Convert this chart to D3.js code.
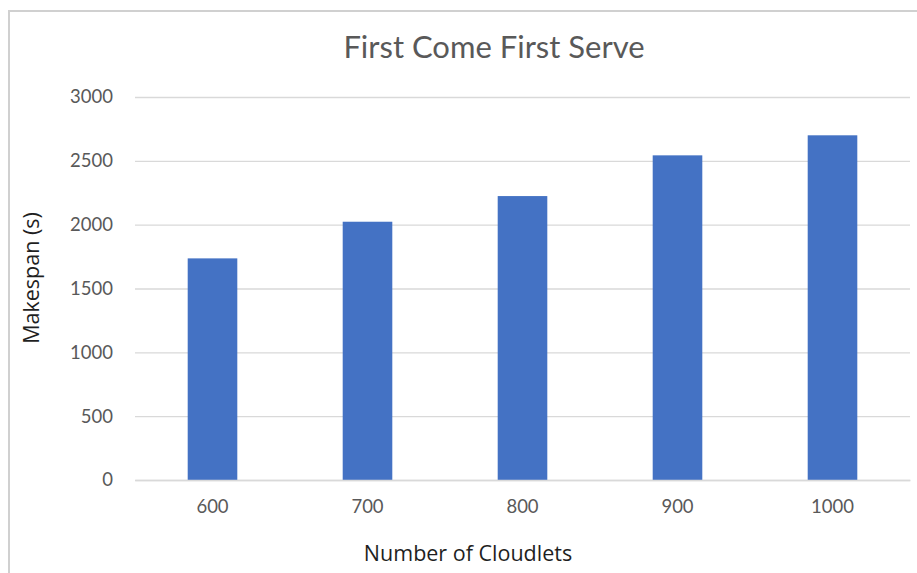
<!DOCTYPE html>
<html>
<head>
<meta charset="utf-8">
<script src="https://cdn.jsdelivr.net/npm/d3@7"></script>
<style>
  body { margin: 0; background: #fff; }
  text { font-family: Lato, "Open Sans", sans-serif; }
</style>
</head>
<body>
<div id="chart"></div>
<script>
// data
const cloudlets = ["600", "700", "800", "900", "1000"];
const makespan = [1736, 2023, 2224, 2543, 2700];
const yTicks = [0, 500, 1000, 1500, 2000, 2500, 3000];

const W = 917, H = 573;
const plot = {left: 135, right: 910, top: 97, bottom: 480};

const svg = d3.select('#chart').append('svg')
    .attr('width', W)
    .attr('height', H);

// chart frame (right and bottom are cut off in the picture)
svg.append('rect')
    .attr('x', 9).attr('y', 11)
    .attr('width', W + 20).attr('height', H + 20)
    .attr('fill', '#fff')
    .attr('stroke', '#d0d0d0')
    .attr('stroke-width', 2);

const x = d3.scaleBand()
    .domain(cloudlets)
    .range([plot.left, plot.right])
    .paddingInner(0.68)
    .paddingOuter(0.34);

const y = d3.scaleLinear()
    .domain([0, 3000])
    .range([plot.bottom, plot.top]);

// gridlines + y labels
const yAxis = d3.axisLeft(y)
    .tickValues(yTicks)
    .tickSize(-(plot.right - plot.left))
    .tickPadding(22)
    .tickFormat(d3.format('d'));

const gy = svg.append('g')
    .attr('transform', `translate(${plot.left},0)`)
    .call(yAxis);
gy.select('.domain').remove();
gy.selectAll('.tick line').attr('stroke', '#d9d9d9').attr('stroke-width', 1.3);
gy.selectAll('.tick text')
    .attr('fill', '#595959')
    .attr('font-size', '18.5px');

// bars
svg.append('g').selectAll('rect')
    .data(makespan)
    .join('rect')
    .attr('x', (d, i) => x(cloudlets[i]))
    .attr('y', d => y(d))
    .attr('width', x.bandwidth())
    .attr('height', d => y(0) - y(d))
    .attr('fill', '#4472c4');

// x axis
const gx = svg.append('g')
    .attr('transform', `translate(0,${plot.bottom})`)
    .call(d3.axisBottom(x).tickSize(0).tickPadding(20));
gx.select('.domain').attr('stroke', '#d9d9d9').attr('stroke-width', 1.3);
gx.selectAll('.tick text')
    .attr('fill', '#595959')
    .attr('font-size', '18.5px');

// title
svg.append('text')
    .attr('x', 494).attr('y', 58)
    .attr('text-anchor', 'middle')
    .attr('fill', '#595959')
    .attr('font-size', '31px')
    .text('First Come First Serve');

// axis titles
svg.append('text')
    .attr('x', 468).attr('y', 561)
    .attr('text-anchor', 'middle')
    .attr('fill', '#1f1f1f')
    .style('font-family', '"Open Sans", sans-serif')
    .attr('font-size', '21.5px')
    .text('Number of Cloudlets');

svg.append('text')
    .attr('transform', 'translate(39,278) rotate(-90)')
    .attr('text-anchor', 'middle')
    .attr('fill', '#1f1f1f')
    .style('font-family', '"Open Sans", sans-serif')
    .attr('font-size', '21.5px')
    .text('Makespan (s)');
</script>
</body>
</html>
